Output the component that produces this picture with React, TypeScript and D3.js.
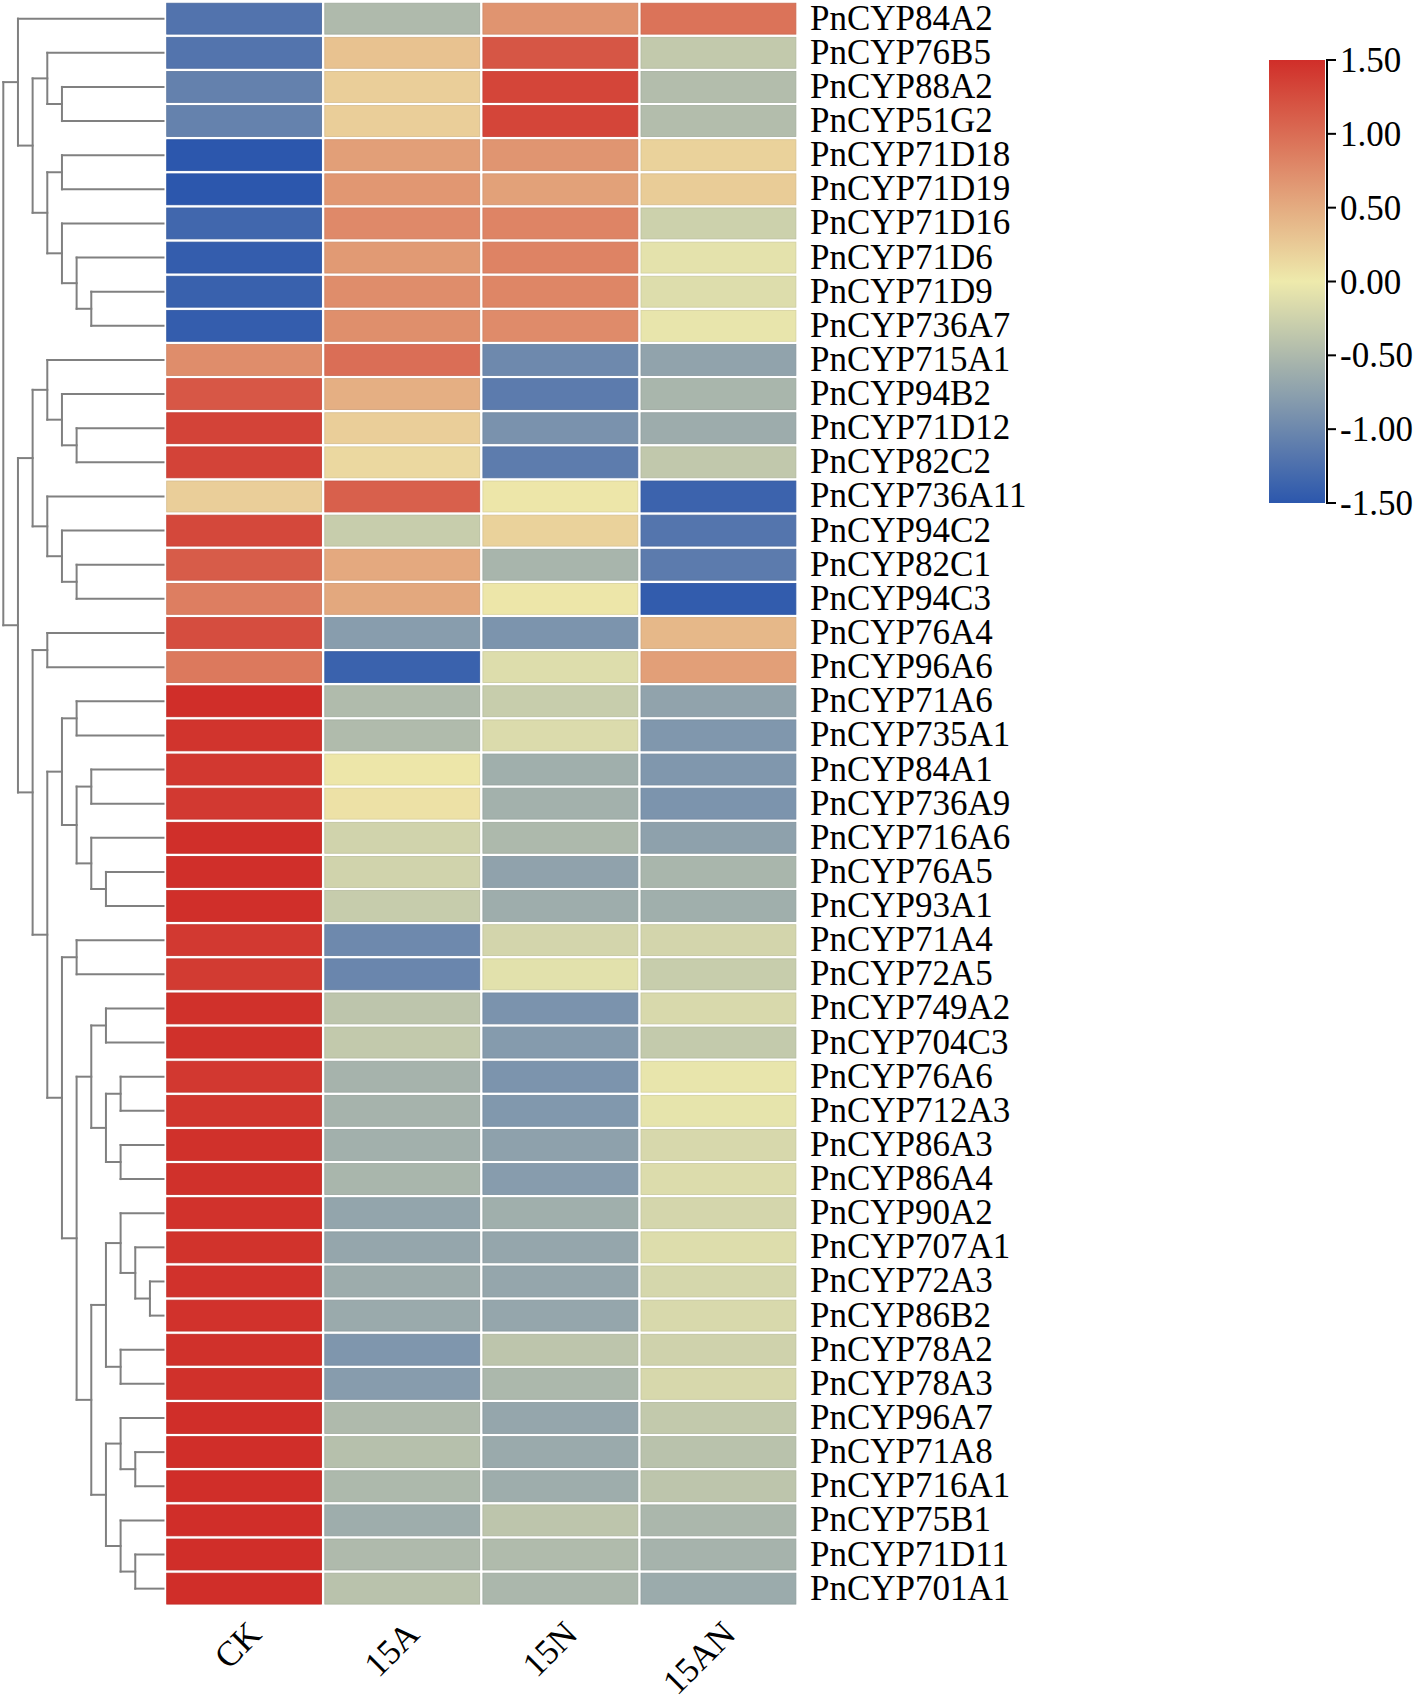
import React from 'react';
import * as d3 from 'd3';

const genes = [
  'PnCYP84A2', 'PnCYP76B5', 'PnCYP88A2', 'PnCYP51G2', 'PnCYP71D18', 'PnCYP71D19', 'PnCYP71D16',
  'PnCYP71D6', 'PnCYP71D9', 'PnCYP736A7', 'PnCYP715A1', 'PnCYP94B2', 'PnCYP71D12', 'PnCYP82C2',
  'PnCYP736A11', 'PnCYP94C2', 'PnCYP82C1', 'PnCYP94C3', 'PnCYP76A4', 'PnCYP96A6', 'PnCYP71A6',
  'PnCYP735A1', 'PnCYP84A1', 'PnCYP736A9', 'PnCYP716A6', 'PnCYP76A5', 'PnCYP93A1', 'PnCYP71A4',
  'PnCYP72A5', 'PnCYP749A2', 'PnCYP704C3', 'PnCYP76A6', 'PnCYP712A3', 'PnCYP86A3', 'PnCYP86A4',
  'PnCYP90A2', 'PnCYP707A1', 'PnCYP72A3', 'PnCYP86B2', 'PnCYP78A2', 'PnCYP78A3', 'PnCYP96A7',
  'PnCYP71A8', 'PnCYP716A1', 'PnCYP75B1', 'PnCYP71D11', 'PnCYP701A1',
];

const conditions = ['CK', '15A', '15N', '15AN'];

const ckValues = [
  -1.21, -1.2, -1.07, -1.06, -1.5, -1.5, -1.34, -1.44, -1.4, -1.44,
  0.74, 1.17, 1.33, 1.33, 0.22, 1.29, 1.13, 0.86, 1.25, 0.9,
  1.5, 1.45, 1.42, 1.41, 1.49, 1.49, 1.49, 1.41, 1.4, 1.48,
  1.48, 1.42, 1.44, 1.48, 1.48, 1.47, 1.46, 1.47, 1.47, 1.48,
  1.48, 1.5, 1.5, 1.5, 1.5, 1.5, 1.5,
];
const a15Values = [
  -0.49, 0.32, 0.22, 0.22, 0.6, 0.66, 0.77, 0.64, 0.74, 0.73,
  0.99, 0.47, 0.22, 0.14, 1.1, -0.3, 0.52, 0.53, -0.79, -1.39,
  -0.48, -0.48, 0.03, 0.07, -0.23, -0.23, -0.31, -0.99, -1.02, -0.38,
  -0.34, -0.56, -0.56, -0.59, -0.53, -0.7, -0.69, -0.63, -0.65, -0.86,
  -0.8, -0.49, -0.43, -0.5, -0.62, -0.49, -0.41,
];
const n15Values = [
  0.69, 1.18, 1.32, 1.32, 0.68, 0.58, 0.81, 0.82, 0.8, 0.76,
  -0.99, -1.13, -0.9, -1.12, 0.03, 0.19, -0.54, 0.03, -0.88, -0.13,
  -0.3, -0.15, -0.6, -0.58, -0.5, -0.73, -0.62, -0.21, -0.09, -0.89,
  -0.81, -0.88, -0.84, -0.74, -0.8, -0.6, -0.69, -0.69, -0.69, -0.38,
  -0.51, -0.69, -0.65, -0.62, -0.38, -0.48, -0.52,
];
const an15Values = [
  0.95, -0.34, -0.46, -0.46, 0.19, 0.24, -0.26, -0.08, -0.13, -0.05,
  -0.72, -0.53, -0.63, -0.35, -1.38, -1.19, -1.13, -1.45, 0.4, 0.6,
  -0.72, -0.85, -0.85, -0.88, -0.74, -0.53, -0.6, -0.21, -0.3, -0.17,
  -0.33, -0.05, -0.06, -0.18, -0.14, -0.2, -0.13, -0.19, -0.17, -0.24,
  -0.18, -0.34, -0.41, -0.38, -0.52, -0.56, -0.64,
];

const legendTicks = [1.5, 1.0, 0.5, 0.0, -0.5, -1.0, -1.5];

// Row clustering tree (nested pairs of gene names)
const treeTop = ['PnCYP84A2', [['PnCYP76B5', ['PnCYP88A2', 'PnCYP51G2']],
  [['PnCYP71D18', 'PnCYP71D19'], ['PnCYP71D16', ['PnCYP71D6', ['PnCYP71D9', 'PnCYP736A7']]]]]];
const treeF = [['PnCYP715A1', ['PnCYP94B2', ['PnCYP71D12', 'PnCYP82C2']]],
  ['PnCYP736A11', ['PnCYP94C2', ['PnCYP82C1', 'PnCYP94C3']]]];
const treeK = [['PnCYP749A2', 'PnCYP704C3'], [['PnCYP76A6', 'PnCYP712A3'], ['PnCYP86A3', 'PnCYP86A4']]];
const treeL = [[['PnCYP90A2', ['PnCYP707A1', ['PnCYP72A3', 'PnCYP86B2']]], ['PnCYP78A2', 'PnCYP78A3']],
  [['PnCYP96A7', ['PnCYP71A8', 'PnCYP716A1']], ['PnCYP75B1', ['PnCYP71D11', 'PnCYP701A1']]]];
const treeH = [[['PnCYP71A6', 'PnCYP735A1'], [['PnCYP84A1', 'PnCYP736A9'], ['PnCYP716A6', ['PnCYP76A5', 'PnCYP93A1']]]],
  [['PnCYP71A4', 'PnCYP72A5'], [treeK, treeL]]];
const treeG = [['PnCYP76A4', 'PnCYP96A6'], treeH];
const rowTree = [treeTop, [treeF, treeG]];

const W = 1416;
const H = 1697;
const FONT = '"Liberation Serif", "Times New Roman", serif';

export default function App() {
  const allValues = [ckValues, a15Values, n15Values, an15Values];

  const y = d3.scaleBand<string>().domain(genes).range([1.6, 1605.7]).padding(0);
  const x = d3.scaleBand<string>().domain(conditions).range([165.1, 797.5]).padding(0);
  const color = d3.scaleLinear<string>()
    .domain([-1.5, 0, 1.5])
    .range(['#2c57ad', '#eeeaac', '#d02e29'])
    .clamp(true);

  const gap = 3.2;
  const rowH = y.step();

  // dendrogram
  const root = d3.hierarchy<any>(rowTree, (d: any) => (Array.isArray(d) ? d : null));
  const depthX = d3.scaleLinear().domain([0, 11]).range([3.3, 164.6]);
  const leafX = 163.5;
  const nodeY = new Map<any, number>();
  root.eachAfter((n: any) => {
    if (!n.children) nodeY.set(n, (y(n.data) as number) + rowH / 2);
    else nodeY.set(n, d3.mean(n.children, (c: any) => nodeY.get(c)) as number);
  });
  const dendroPaths: string[] = [];
  root.each((n: any) => {
    if (!n.children) return;
    const nx = depthX(n.depth);
    const ys = n.children.map((c: any) => nodeY.get(c) as number);
    dendroPaths.push(`M${nx},${d3.min(ys)}V${d3.max(ys)}`);
    n.children.forEach((c: any) => {
      const cx = c.children ? depthX(c.depth) : leafX;
      const cy = nodeY.get(c) as number;
      dendroPaths.push(`M${nx},${cy}H${cx}`);
    });
  });

  // legend
  const legX = 1269;
  const legW = 56;
  const ly = d3.scaleLinear().domain([-1.5, 1.5]).range([503, 60]);
  const gradStops = d3.range(0, 1.0001, 0.05).map((t) => ({ t, c: color(1.5 - 3 * t) }));

  return (
    <svg
      width={W}
      height={H}
      style={{ position: 'absolute', left: 0, top: 0, background: '#fff' }}
      fontFamily={FONT}
    >
      <defs>
        <linearGradient id="legGrad" x1="0" y1="0" x2="0" y2="1">
          {gradStops.map((s, i) => (
            <stop key={i} offset={`${s.t * 100}%`} stopColor={s.c} />
          ))}
        </linearGradient>
      </defs>
      <rect x={0} y={0} width={W} height={H} fill="#fff" />

      {/* dendrogram */}
      <g fill="none" stroke="#808080" strokeWidth={2} strokeLinecap="square">
        {dendroPaths.map((d, i) => (
          <path key={i} d={d} />
        ))}
      </g>

      {/* heatmap cells */}
      <g>
        {genes.map((g, ri) =>
          conditions.map((c, ci) => {
            const v = allValues[ci][ri];
            const fill = color(v);
            return (
              <rect
                key={`${g}-${c}`}
                x={(x(c) as number) + gap / 2}
                y={(y(g) as number) + gap / 2}
                width={x.bandwidth() - gap}
                height={rowH - gap}
                fill={fill}
                stroke={d3.color(fill)!.darker(0.25).toString()}
                strokeWidth={0.8}
              />
            );
          })
        )}
      </g>

      {/* row labels */}
      <g fontSize={35} fill="#000">
        {genes.map((g) => (
          <text key={g} x={810} y={(y(g) as number) + rowH / 2 + 11}>
            {g}
          </text>
        ))}
      </g>

      {/* column labels */}
      <g fontSize={35} fill="#000">
        {conditions.map((c) => {
          const cx = (x(c) as number) + x.bandwidth() / 2 + 19;
          const cy = 1636;
          return (
            <text key={c} x={cx} y={cy} textAnchor="end" transform={`rotate(-45,${cx},${cy})`}>
              {c}
            </text>
          );
        })}
      </g>

      {/* color legend */}
      <rect x={legX} y={ly(1.5)} width={legW} height={ly(-1.5) - ly(1.5)} fill="url(#legGrad)" />
      <g stroke="#000" strokeWidth={2}>
        <line x1={legX + legW + 2} x2={legX + legW + 2} y1={ly(1.5) - 1} y2={ly(-1.5) + 1} />
        {legendTicks.map((t) => (
          <line key={t} x1={legX + legW + 2} x2={legX + legW + 11} y1={ly(t)} y2={ly(t)} />
        ))}
      </g>
      <g fontSize={35} fill="#000">
        {legendTicks.map((t) => (
          <text key={t} x={1340} y={ly(t) + 12}>
            {t.toFixed(2)}
          </text>
        ))}
      </g>
    </svg>
  );
}
